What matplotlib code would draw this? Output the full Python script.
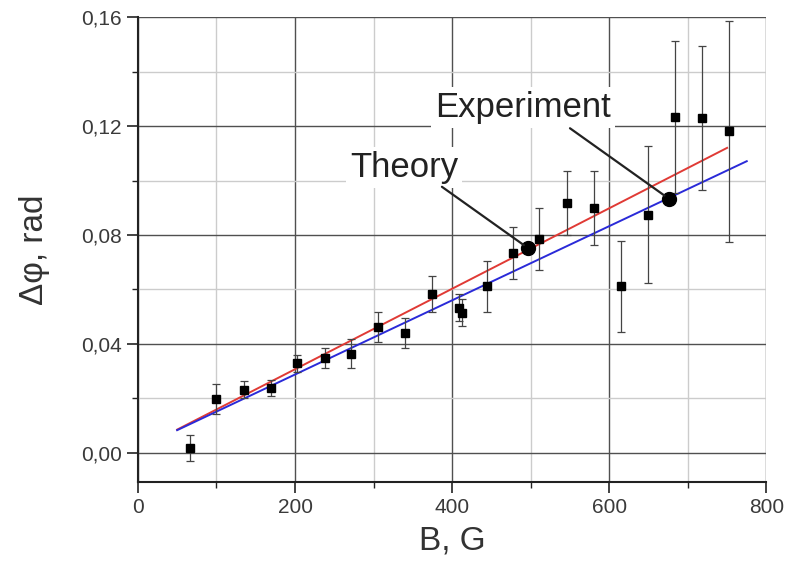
import matplotlib
matplotlib.use("Agg")
import matplotlib.pyplot as plt
from matplotlib.ticker import MultipleLocator, FuncFormatter

plt.rcParams['font.family'] = ['Liberation Sans', 'DejaVu Sans']

# Experimental data
B = [66, 100, 135, 169, 203, 238, 271, 306, 340, 374, 409, 412, 444, 478,
     511, 546, 580, 615, 649, 684, 718, 752]
dphi = [0.0018, 0.0199, 0.0232, 0.0239, 0.0328, 0.0349, 0.0364, 0.0462,
        0.0441, 0.0583, 0.0533, 0.0515, 0.0611, 0.0734, 0.0786, 0.0918,
        0.0899, 0.0611, 0.0874, 0.1234, 0.1231, 0.1181]
err = [0.0049, 0.0055, 0.0030, 0.0030, 0.0030, 0.0037, 0.0053, 0.0055,
       0.0055, 0.0067, 0.0050, 0.0050, 0.0095, 0.0094, 0.0114, 0.0118,
       0.0136, 0.0166, 0.0252, 0.0280, 0.0264, 0.0406]

# Fit lines
theory_x = [50, 750]
theory_y = [0.0085, 0.1120]
exp_x = [50, 775]
exp_y = [0.0083, 0.1071]

# Highlighted points
theory_pt = (497, 0.0751)
exp_pt = (676, 0.0933)

fig = plt.figure(figsize=(8.11, 5.73), dpi=100)
ax = fig.add_axes([0.170, 0.159, 0.775, 0.811])

ax.set_xlim(0, 800)
ax.set_ylim(-0.0107, 0.16)

ax.xaxis.set_major_locator(MultipleLocator(200))
ax.xaxis.set_minor_locator(MultipleLocator(100))
ax.yaxis.set_major_locator(MultipleLocator(0.04))
ax.yaxis.set_minor_locator(MultipleLocator(0.02))
ax.yaxis.set_major_formatter(FuncFormatter(lambda v, p: f"{v:.2f}".replace('.', ',')))

ax.grid(True, which='major', color='#505050', linewidth=1.0, zorder=0)
ax.grid(True, which='minor', color='#cccccc', linewidth=1.0, zorder=0)
ax.set_axisbelow(True)

for s in ['top', 'right']:
    ax.spines[s].set_visible(False)
for s in ['left', 'bottom']:
    ax.spines[s].set_linewidth(1.5)
    ax.spines[s].set_color('#222222')

ax.tick_params(which='major', direction='out', length=8, width=1.2,
               labelsize=15, colors='#222222', labelcolor='#3a3a3a')
ax.tick_params(which='minor', direction='out', length=4, width=1.0, colors='#222222')

ax.plot(theory_x, theory_y, color='#e03a35', linewidth=1.4, zorder=3)
ax.plot(exp_x, exp_y, color='#2a2ad8', linewidth=1.4, zorder=3)

ax.errorbar(B, dphi, yerr=err, fmt='s', color='black', ms=6,
            ecolor='#444444', elinewidth=0.9, capsize=3, capthick=0.9, zorder=4)

ax.plot(*theory_pt, 'o', color='black', ms=10, zorder=5)
ax.plot(*exp_pt, 'o', color='black', ms=10, zorder=5)

bbox = dict(facecolor='white', edgecolor='none', pad=3)
ax.text(339, 0.1047, 'Theory', fontsize=25, ha='center', va='center',
        color='#222222', bbox=bbox, zorder=6)
ax.text(490, 0.1269, 'Experiment', fontsize=25, ha='center', va='center',
        color='#222222', bbox=bbox, zorder=6)
ax.annotate('', xy=theory_pt, xytext=(387, 0.0977),
            arrowprops=dict(arrowstyle='-', color='#222222', lw=1.6,
                            shrinkA=0, shrinkB=4), zorder=6)
ax.annotate('', xy=exp_pt, xytext=(550, 0.1192),
            arrowprops=dict(arrowstyle='-', color='#222222', lw=1.6,
                            shrinkA=0, shrinkB=4), zorder=6)

ax.set_xlabel('B, G', fontsize=24, color='#333333', labelpad=6)
ax.set_ylabel('Δφ, rad', fontsize=24, color='#333333', labelpad=22)

fig.savefig('out.png', dpi=100)
